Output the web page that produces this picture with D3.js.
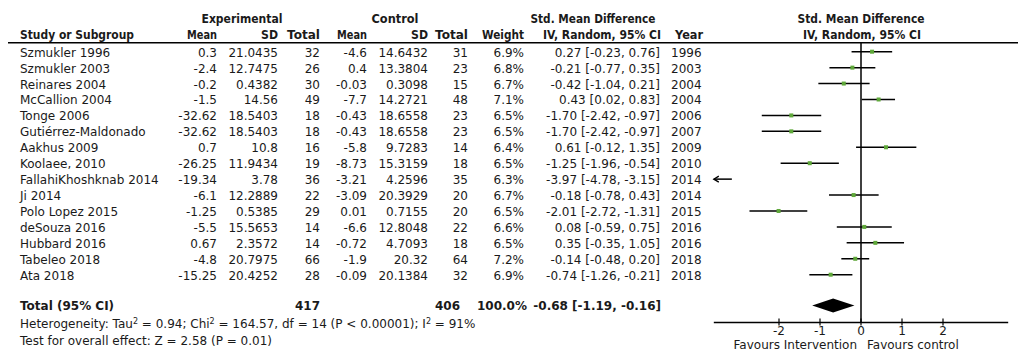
<!DOCTYPE html>
<html><head><meta charset="utf-8">
<script src="https://cdn.jsdelivr.net/npm/d3@7"></script>
<style>
html,body{margin:0;padding:0;background:#fff;}
svg text{font-family:"DejaVu Sans",Verdana,sans-serif;fill:#1a1a1a;}
</style></head>
<body><svg id="c" width="1021" height="356"></svg>
<script>
const studies = ["Szmukler 1996","Szmukler 2003","Reinares 2004","McCallion 2004","Tonge 2006","Gutiérrez-Maldonado","Aakhus 2009","Koolaee, 2010","FallahiKhoshknab 2014","Ji 2014","Polo Lopez 2015","deSouza 2016","Hubbard 2016","Tabeleo 2018","Ata 2018"];
const expMean = [0.3,-2.4,-0.2,-1.5,-32.62,-32.62,0.7,-26.25,-19.34,-6.1,-1.25,-5.5,0.67,-4.8,-15.25];
const expSD = ["21.0435","12.7475","0.4382","14.56","18.5403","18.5403","10.8","11.9434","3.78","12.2889","0.5385","15.5653","2.3572","20.7975","20.4252"];
const expTotal = [32,26,30,49,18,18,16,19,36,22,29,14,14,66,28];
const ctlMean = [-4.6,0.4,-0.03,-7.7,-0.43,-0.43,-5.8,-8.73,-3.21,-3.09,0.01,-6.6,-0.72,-1.9,-0.09];
const ctlSD = ["14.6432","13.3804","0.3098","14.2721","18.6558","18.6558","9.7283","15.3159","4.2596","20.3929","0.7155","12.8048","4.7093","20.32","20.1384"];
const ctlTotal = [31,23,15,48,23,23,14,18,35,20,20,22,18,64,32];
const weight = [6.9,6.8,6.7,7.1,6.5,6.5,6.4,6.5,6.3,6.7,6.5,6.6,6.5,7.2,6.9];
const smd = [0.27,-0.21,-0.42,0.43,-1.70,-1.70,0.61,-1.25,-3.97,-0.18,-2.01,0.08,0.35,-0.14,-0.74];
const ciLow = [-0.23,-0.77,-1.04,0.02,-2.42,-2.42,-0.12,-1.96,-4.78,-0.78,-2.72,-0.59,-0.35,-0.48,-1.26];
const ciHigh = [0.76,0.35,0.21,0.83,-0.97,-0.97,1.35,-0.54,-3.15,0.43,-1.31,0.75,1.05,0.20,-0.21];
const years = [1996,2003,2004,2004,2006,2007,2009,2010,2014,2014,2015,2016,2016,2018,2018];
const totalExp = 417, totalCtl = 406, totalWeight = 100.0;
const pooled = {est:-0.68, lo:-1.19, hi:-0.16};
const axisTicks = [-2,-1,0,1,2];
const axisLimit = 3.59;

const f2 = v => v.toFixed(2);
const svg = d3.select("#c");
const FS = 12;

const rowY = d3.scalePoint().domain(d3.range(studies.length)).range([51.7, 274.7]);
const x = d3.scaleLinear().domain([-2,2]).range([779,943]);

function txt(g, s, xx, yy, anchor, bold, size, len){
  const t = g.append("text").attr("x",xx).attr("y",yy).attr("text-anchor",anchor||"start")
    .attr("font-size",size||FS).attr("font-weight",bold?"bold":"normal").text(s);
  if (len) t.attr("textLength",len).attr("lengthAdjust","spacingAndGlyphs");
  return t;
}
// headers
const H1 = 22.5, H2 = 38.5;
txt(svg,"Experimental",242,H1,"middle",true,FS,81);
txt(svg,"Control",395,H1,"middle",true,FS,47);
txt(svg,"Std. Mean Difference",593,H1,"middle",true,FS,125);
txt(svg,"Std. Mean Difference",861,H1,"middle",true,FS,127);
txt(svg,"Study or Subgroup",20,H2,"start",true,FS,114);
txt(svg,"Mean",217,H2,"end",true,FS,30);
txt(svg,"SD",278,H2,"end",true,FS,17);
txt(svg,"Total",320,H2,"end",true,FS,33);
txt(svg,"Mean",367,H2,"end",true,FS,30);
txt(svg,"SD",428,H2,"end",true,FS,17);
txt(svg,"Total",468,H2,"end",true,FS,33);
txt(svg,"Weight",524,H2,"end",true,FS,42);
txt(svg,"IV, Random, 95% CI",661,H2,"end",true,FS,118);
txt(svg,"Year",675,H2,"start",true,FS,28);
txt(svg,"IV, Random, 95% CI",862,H2,"middle",true,FS,118);
svg.append("line").attr("x1",8).attr("x2",1018).attr("y1",42.8).attr("y2",42.8).attr("stroke","#000").attr("stroke-width",1.5);

// rows
const rows = svg.append("g");
studies.forEach((s,i)=>{
  const by = rowY(i)+5;
  txt(rows,s,20,by,"start");
  txt(rows,String(expMean[i]),217,by,"end");
  txt(rows,expSD[i],278,by,"end");
  txt(rows,String(expTotal[i]),320,by,"end");
  txt(rows,String(ctlMean[i]),367,by,"end");
  txt(rows,ctlSD[i],428,by,"end");
  txt(rows,String(ctlTotal[i]),468,by,"end");
  txt(rows,weight[i].toFixed(1)+"%",524,by,"end");
  txt(rows,`${f2(smd[i])} [${f2(ciLow[i])}, ${f2(ciHigh[i])}]`,660,by,"end");
  txt(rows,String(years[i]),671,by,"start");
});

// total
const TY = 309.5;
txt(svg,"Total (95% CI)",20,TY,"start",true);
txt(svg,String(totalExp),320,TY,"end",true);
txt(svg,String(totalCtl),460,TY,"end",true);
txt(svg,totalWeight.toFixed(1)+"%",527,TY,"end",true);
txt(svg,`${f2(pooled.est)} [${f2(pooled.lo)}, ${f2(pooled.hi)}]`,661,TY,"end",true);

const het = svg.append("text").attr("x",20).attr("y",327.5).attr("font-size",FS);
het.append("tspan").text("Heterogeneity: Tau");
het.append("tspan").attr("baseline-shift","super").attr("font-size",8).text("2");
het.append("tspan").text(" = 0.94; Chi");
het.append("tspan").attr("baseline-shift","super").attr("font-size",8).text("2");
het.append("tspan").text(" = 164.57, df = 14 (P < 0.00001); I");
het.append("tspan").attr("baseline-shift","super").attr("font-size",8).text("2");
het.append("tspan").text(" = 91%");
txt(svg,"Test for overall effect: Z = 2.58 (P = 0.01)",20,345,"start");

// plot
const AY = 322.5;
const plot = svg.append("g");
plot.append("line").attr("x1",x(0)).attr("x2",x(0)).attr("y1",42.8).attr("y2",AY).attr("stroke","#000").attr("stroke-width",1.5);
studies.forEach((s,i)=>{
  const y = rowY(i);
  const lo = Math.max(ciLow[i], -axisLimit), hi = Math.min(ciHigh[i], axisLimit);
  plot.append("line").attr("x1",x(lo)).attr("x2",x(hi)).attr("y1",y).attr("y2",y).attr("stroke","#000").attr("stroke-width",1.5);
  if (ciLow[i] < -axisLimit) {
    const x0 = x(lo);
    plot.append("path").attr("d",`M${x0+5},${y-3} L${x0},${y} L${x0+5},${y+3}`).attr("stroke","#000").attr("stroke-width",1.3).attr("fill","none");
  }
  if (Math.abs(smd[i]) <= axisLimit)
    plot.append("rect").attr("x",x(smd[i])-2).attr("y",y-2).attr("width",4).attr("height",4).attr("fill","#5fa83a");
});
// diamond
const DY = 305.5;
plot.append("path").attr("d",`M${x(pooled.lo)},${DY} L${x(pooled.est)},${DY-7} L${x(pooled.hi)},${DY} L${x(pooled.est)},${DY+7} Z`).attr("fill","#000");
// axis
plot.append("line").attr("x1",x(-axisLimit)).attr("x2",x(axisLimit)).attr("y1",AY).attr("y2",AY).attr("stroke","#000").attr("stroke-width",1.3);
axisTicks.forEach(t=>{
  plot.append("line").attr("x1",x(t)).attr("x2",x(t)).attr("y1",AY-4).attr("y2",AY+3).attr("stroke","#000").attr("stroke-width",1.2);
  txt(plot,String(t),x(t),AY+12.5,"middle",false,FS);
});
txt(plot,"Favours Intervention",x(0)-4,AY+26.5,"end");
txt(plot,"Favours control",x(0)+6,AY+26.5,"start");
</script></body></html>
